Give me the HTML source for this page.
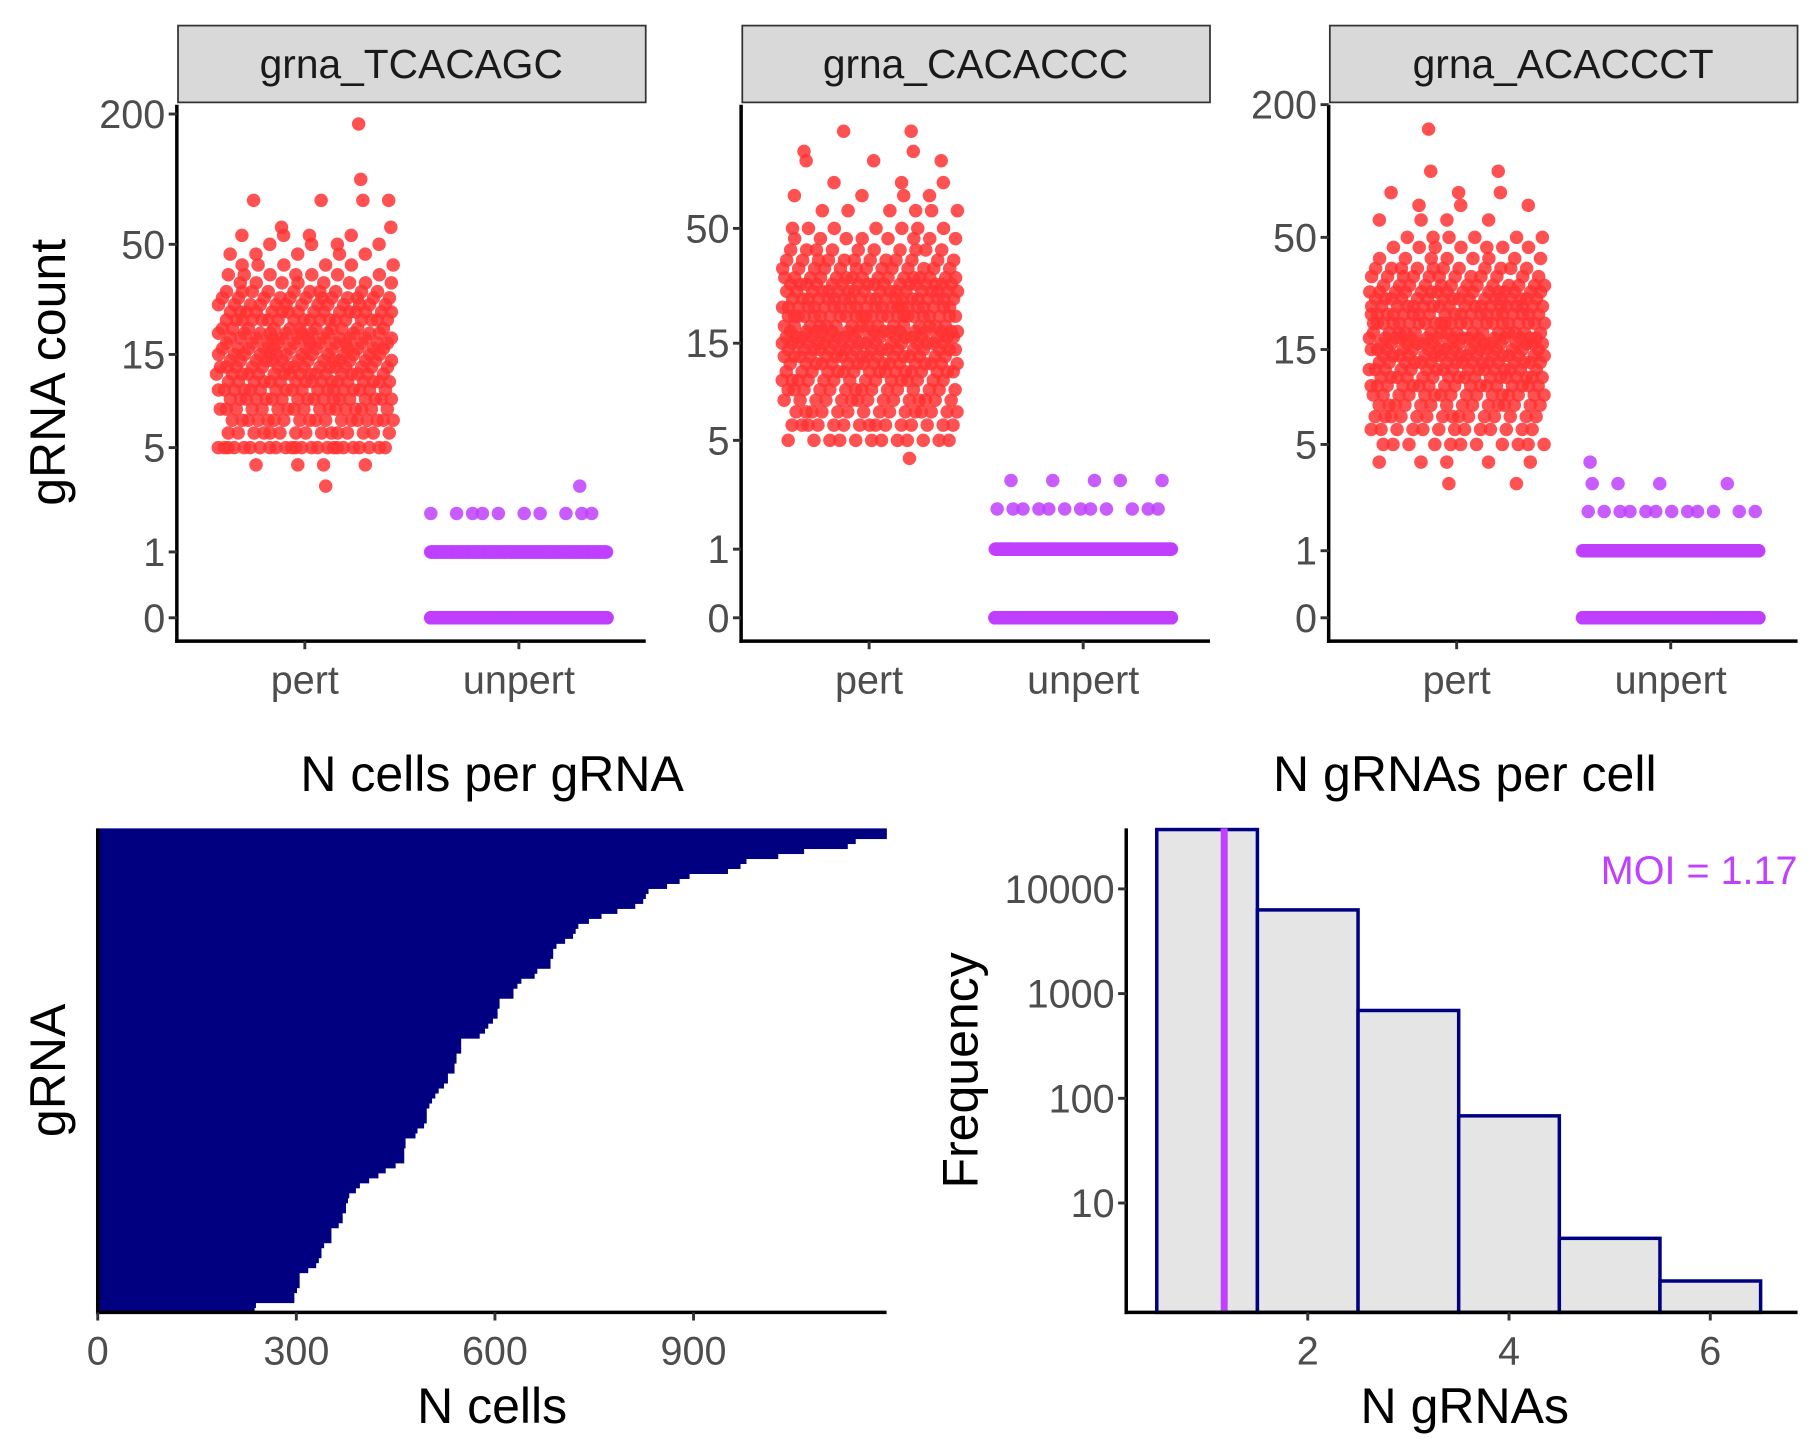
<!DOCTYPE html>
<html><head><meta charset="utf-8"><style>
html,body{margin:0;padding:0;background:#fff;}
svg{display:block;font-family:"Liberation Sans",Arial,sans-serif;}
</style></head><body>
<svg id="fig" width="1815" height="1452" viewBox="0 0 1560 1248" xmlns="http://www.w3.org/2000/svg">
<rect x="0" y="0" width="1560" height="1248" fill="#fff"/>
<g id="topPanels"></g>
<g id="bl"></g>
<g id="br" transform="translate(-5,0)"></g>
</svg>
<script>
// ---------- DATA ----------
const panelNames = ['grna_TCACAGC','grna_CACACCC','grna_ACACCCT'];
const groupLabels = ['pert','unpert'];
const p1PertValues = [3,4,5,6,7,8,9,10,11,12,13,14,15,16,17,18,19,20,22,24,26,28,30,33,36,40,45,50,55,60,80,100,180];
const p1PertFreq   = [1,4,24,15,18,17,18,18,17,17,16,15,14,13,12,12,11,11,18,16,13,12,10,8,7,6,5,4,4,2,4,1,1];
const p1UnpertValues = [0,1,2,3];
const p1UnpertFreq   = [800,250,10,1];
const p2PertValues = [4,5,6,7,8,9,10,11,12,13,14,15,16,17,18,20,22,24,26,28,30,33,36,40,45,50,60,70,80,100,110,135];
const p2PertFreq   = [1,12,15,15,15,15,15,17,17,17,17,17,17,16,16,24,22,20,18,17,16,13,12,10,8,7,6,4,3,3,2,2];
const p2UnpertValues = [0,1,2,3];
const p2UnpertFreq   = [800,300,12,5];
const p3PertValues = [3,4,5,6,7,8,9,10,11,12,13,14,15,16,17,18,20,22,24,26,28,30,33,36,40,45,50,60,70,80,100,155];
const p3PertFreq   = [2,5,11,13,15,15,16,17,17,17,17,17,16,16,16,16,23,20,19,17,16,13,12,11,8,7,6,4,3,3,2,1];
const p3UnpertValues = [0,1,2,3,4];
const p3UnpertFreq   = [800,300,12,4,1];
const p1Ticks = [0,1,5,15,50,200];
const p2Ticks = [0,1,5,15,50];
const p3Ticks = [0,1,5,15,50,200];

// N cells per gRNA (top to bottom)
const cellsPerGrna = [1192,1192,1145,1133,1067,1028,980,971,952,894,879,860,832,828,824,812,785,761,742,726,722,718,706,693,688,688,684,684,664,660,640,634,628,628,607,607,604,604,597,590,585,577,549,549,549,542,542,539,539,529,529,523,515,510,505,501,497,497,497,493,483,480,465,465,463,463,463,450,435,424,410,396,390,380,378,375,375,370,370,364,353,353,353,342,338,338,334,330,318,305,305,305,301,297,297,239,237];
const cellTicks = [0,300,600,900];

// N gRNAs per cell histogram
const nGrnas = [1,2,3,4,5,6];
const nGrnaFreq = [40000,6300,690,68,4.6,1.8];
const freqTicks = [10,100,1000,10000];
const nGrnaTicks = [2,4,6];
const moiValue = 1.17;

// ---------- HELPERS ----------
const NS='http://www.w3.org/2000/svg';
const TICK_FS=34, TITLE_FS=43;
function mk(parent,tag,attrs,text){const e=document.createElementNS(NS,tag);for(const k in attrs)e.setAttribute(k,attrs[k]);if(text!==undefined)e.textContent=text;parent.appendChild(e);return e;}

// ---------- TOP SCATTER PANELS ----------
const topG=document.getElementById('topPanels');
const panels=[
 {x0:152,x1:555,y0:531,slope:188,ticks:p1Ticks,pv:p1PertValues,pf:p1PertFreq,uv:p1UnpertValues,uf:p1UnpertFreq},
 {x0:637,x1:1040,y0:531,slope:196,ticks:p2Ticks,pv:p2PertValues,pf:p2PertFreq,uv:p2UnpertValues,uf:p2UnpertFreq},
 {x0:1142,x1:1545,y0:531,slope:191.5,ticks:p3Ticks,pv:p3PertValues,pf:p3PertFreq,uv:p3UnpertValues,uf:p3UnpertFreq}
];
panels.forEach((p,pi)=>{
  const g=mk(topG,'g',{});
  
  
  const ys=v=>p.y0-p.slope*Math.log10(v+1);
  const gx=i=>p.x0+110+i*184;
  const st=mk(g,'rect',{x:p.x0+1,y:22,width:p.x1-p.x0-1,height:66,fill:'#D9D9D9',stroke:'#333',"stroke-width":1.5});
  
  
  const stt=mk(g,'text',{x:(p.x0+p.x1)/2,y:67,'text-anchor':'middle','font-size':35,fill:'#1A1A1A'},panelNames[pi]);
  
  
  const series=[[p.pv,p.pf,'#FF3333',0],[p.uv,p.uf,'#BF40FF',1]];
  series.forEach(([vals,freq,col,gi])=>{
    const sg=mk(g,'g',{fill:col,'fill-opacity':0.85});
    
    
    let k=0;
    vals.forEach((v,vi)=>{
      for(let j=0;j<freq[vi];j++){
        k++;
        const jit=((k*0.6180339887+vi*0.37+pi*0.11)%1)*2-1;
        const c=mk(sg,'circle',{cx:gx(gi)+jit*76,cy:ys(v),r:5.8});
        
        
      }
    });
  });
  const ya=mk(g,'line',{x1:p.x0,y1:90,x2:p.x0,y2:552.5,stroke:'#000','stroke-width':3});
  
  
  const xa=mk(g,'line',{x1:p.x0-1.5,y1:551,x2:p.x1,y2:551,stroke:'#000','stroke-width':3});
  
  
  p.ticks.forEach(t=>{
    const y=ys(t);
    mk(g,'line',{x1:p.x0-7,y1:y,x2:p.x0,y2:y,stroke:'#333','stroke-width':2.5});
    const tl=mk(g,'text',{x:p.x0-10,y:y+12,'text-anchor':'end','font-size':TICK_FS,fill:'#4D4D4D'},String(t));
    
    
  });
  groupLabels.forEach((lab,i)=>{
    mk(g,'line',{x1:gx(i),y1:551,x2:gx(i),y2:558,stroke:'#333','stroke-width':2.5});
    const tl=mk(g,'text',{x:gx(i),y:596,'text-anchor':'middle','font-size':TICK_FS,fill:'#4D4D4D'},lab);
    
    
  });
});
const yt=mk(topG,'text',{x:0,y:0,transform:'translate(56,320) rotate(-90)','text-anchor':'middle','font-size':TITLE_FS,fill:'#000'},'gRNA count');



// ---------- BOTTOM LEFT: N cells per gRNA ----------
const bl=document.getElementById('bl');
(function(){
  const x0=84,xPer=0.569,yTop=712,yBot=1128;
  const xs=v=>x0+v*xPer;
  const n=cellsPerGrna.length, h=(yBot-yTop)/n;
  const t=mk(bl,'text',{x:423,y:680,'text-anchor':'middle','font-size':TITLE_FS,fill:'#000'},'N cells per gRNA');
  
  
  const bg=mk(bl,'g',{fill:'#000080'});
  
  
  cellsPerGrna.forEach((v,i)=>{
    const r=mk(bg,'rect',{x:x0,y:yTop+i*h,width:xs(v)-x0,height:h+0.6});
    
    
  });
  const ya=mk(bl,'line',{x1:x0,y1:712,x2:x0,y2:1129.5,stroke:'#000','stroke-width':3});
  
  
  const xa=mk(bl,'line',{x1:x0-1.5,y1:1128,x2:762,y2:1128,stroke:'#000','stroke-width':3});
  
  
  cellTicks.forEach(v=>{
    mk(bl,'line',{x1:xs(v),y1:1128,x2:xs(v),y2:1135,stroke:'#333','stroke-width':2.5});
    const tl=mk(bl,'text',{x:xs(v),y:1173,'text-anchor':'middle','font-size':TICK_FS,fill:'#4D4D4D'},String(v));
    
    
  });
  const xt=mk(bl,'text',{x:423,y:1223,'text-anchor':'middle','font-size':TITLE_FS,fill:'#000'},'N cells');
  
  
  const yt2=mk(bl,'text',{x:0,y:0,transform:'translate(56,920) rotate(-90)','text-anchor':'middle','font-size':TITLE_FS,fill:'#000'},'gRNA');
  
  
})();

// ---------- BOTTOM RIGHT: histogram ----------
const br=document.getElementById('br');
(function(){
  const ax=973,yTop=712,yBot=1128;
  const xs=v=>1129+(v-2)*86.5;
  const ys=v=>Math.max(yTop+1,1034-90*(Math.log10(v)-1));
  const t=mk(br,'text',{x:1264,y:680,'text-anchor':'middle','font-size':TITLE_FS,fill:'#000'},'N gRNAs per cell');
  
  
  nGrnas.forEach((n,i)=>{
    const y=ys(nGrnaFreq[i]);
    const r=mk(br,'rect',{x:xs(n-0.5),y:y,width:xs(n+0.5)-xs(n-0.5),height:yBot-y,fill:'#E5E5E5',stroke:'#000080','stroke-width':3});
    
    
  });
  const ml=mk(br,'line',{x1:xs(moiValue),y1:yTop,x2:xs(moiValue),y2:yBot,stroke:'#BF40FF','stroke-width':6});
  
  
  const mt=mk(br,'text',{x:1550,y:760,'text-anchor':'end','font-size':34,fill:'#BF40FF'},'MOI = '+moiValue.toFixed(2));
  
  
  const ya=mk(br,'line',{x1:ax,y1:yTop,x2:ax,y2:yBot+1.5,stroke:'#000','stroke-width':3});
  
  
  const xa=mk(br,'line',{x1:ax-1.5,y1:yBot,x2:1550,y2:yBot,stroke:'#000','stroke-width':3});
  
  
  freqTicks.forEach(v=>{
    const y=ys(v);
    mk(br,'line',{x1:ax-7,y1:y,x2:ax,y2:y,stroke:'#333','stroke-width':2.5});
    const tl=mk(br,'text',{x:ax-10,y:y+12,'text-anchor':'end','font-size':TICK_FS,fill:'#4D4D4D'},String(v));
    
    
  });
  nGrnaTicks.forEach(v=>{
    mk(br,'line',{x1:xs(v),y1:yBot,x2:xs(v),y2:yBot+7,stroke:'#333','stroke-width':2.5});
    const tl=mk(br,'text',{x:xs(v),y:1173,'text-anchor':'middle','font-size':TICK_FS,fill:'#4D4D4D'},String(v));
    
    
  });
  const xt=mk(br,'text',{x:1264,y:1223,'text-anchor':'middle','font-size':TITLE_FS,fill:'#000'},'N gRNAs');
  
  
  const yt3=mk(br,'text',{x:0,y:0,transform:'translate(845,920) rotate(-90)','text-anchor':'middle','font-size':TITLE_FS,fill:'#000'},'Frequency');
  
  
})();
</script>
</body></html>
